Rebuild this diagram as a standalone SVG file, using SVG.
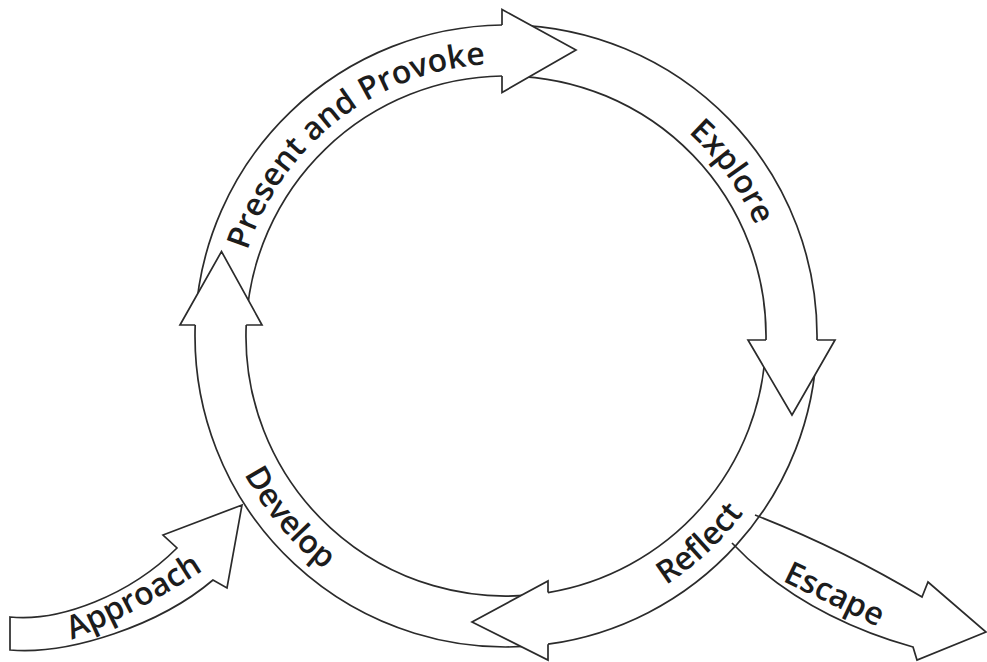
<svg xmlns="http://www.w3.org/2000/svg" width="987" height="662" viewBox="0 0 987 662">
  <style>
    .band { fill: none; stroke: #2b2b2b; stroke-width: 1.7; }
    .head, .side { fill: #ffffff; stroke: #2b2b2b; stroke-width: 1.7; stroke-linejoin: miter; }
    .lbl { font-family: "Open Sans", "Noto Sans", sans-serif; font-weight: 600; font-size: 32px; fill: #1c1c1c; }
  </style>
  <defs>
    <path id="arc-present" d="M237.64,373.72 A269,269 0 0 1 607.52,84.73"/>
    <path id="arc-explore" d="M477.67,66.49 A269,269 0 0 1 753.57,446.23"/>
    <path id="arc-reflect" d="M418.87,620.98 A300,300 0 0 0 796.36,268.97"/>
    <path id="arc-develop" d="M225.97,234.08 A300,300 0 0 0 557.75,629.47"/>
    <path id="arc-approach" d="M30,655 Q137,620 240,545"/>
    <path id="arc-escape" d="M745,563 Q822,600 915,645"/>
  </defs>

  <!-- side arrows entering and leaving the cycle -->
  <g id="approach">
    <path class="side" d="M10,617 C60,622 130,595 177,548 L163,535 L242,505 L227,588 L213,580 C160,625 70,655 10,650 Z"/>
    <text class="lbl"><textPath href="#arc-approach" startOffset="50%" text-anchor="middle">Approach</textPath></text>
  </g>
  <g id="escape">
    <path class="side" d="M755,515 Q840,548 922,597 L928,582 L986,632 L917,660 L913,647 Q800,615 732,543"/>
    <text class="lbl"><textPath href="#arc-escape" startOffset="50%" text-anchor="middle">Escape</textPath></text>
  </g>

  <!-- ring bands (outer and inner edges), each running into the next arrowhead -->
  <g id="connectors">
    <g id="band-present">
      <path class="band" d="M195.43,319.72 A311,311 0 0 1 502,25"/>
      <path class="band" d="M246.36,322.39 A260,260 0 0 1 502,76"/>
    </g>
    <g id="band-explore">
      <path class="band" d="M511.43,25.05 A311,311 0 0 1 817,340"/>
      <path class="band" d="M510.54,76.04 A260,260 0 0 1 766,340"/>
    </g>
    <g id="band-reflect">
      <path class="band" d="M816.81,346.85 A311,311 0 0 1 548,644.2"/>
      <path class="band" d="M765.84,345.07 A260,260 0 0 1 548,592.6"/>
    </g>
    <g id="band-develop">
      <path class="band" d="M540,645.1 A311,311 0 0 1 195.2,325"/>
      <path class="band" d="M540,593.8 A260,260 0 0 1 246.2,325"/>
    </g>
  </g>

  <!-- arrowheads sit on top of the following band's tail -->
  <g id="present">
    <path class="head" d="M502,25 L502,9.5 L576,50 L502,92.5 L502,76"/>
    <text class="lbl"><textPath href="#arc-present" startOffset="50%" text-anchor="middle">Present and Provoke</textPath></text>
  </g>
  <g id="explore">
    <path class="head" d="M766,340 L748,340 L792,415 L835,340 L817,340"/>
    <text class="lbl"><textPath href="#arc-explore" startOffset="50%" text-anchor="middle">Explore</textPath></text>
  </g>
  <g id="reflect">
    <path class="head" d="M548,592.6 L548,581 L472,622 L548,660 L548,644.2"/>
    <text class="lbl"><textPath href="#arc-reflect" startOffset="50%" text-anchor="middle">Reflect</textPath></text>
  </g>
  <g id="develop">
    <path class="head" d="M195.2,325 L180,325 L221.5,251.5 L262,325 L246.2,325"/>
    <text class="lbl"><textPath href="#arc-develop" startOffset="50%" text-anchor="middle">Develop</textPath></text>
  </g>
</svg>
